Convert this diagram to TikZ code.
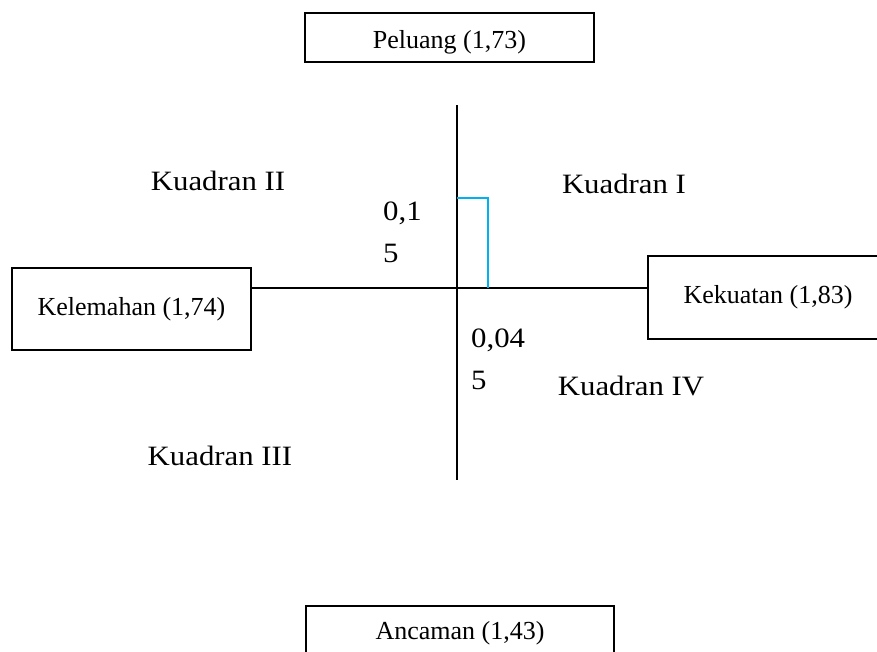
\documentclass[tikz,border=0pt]{standalone}
\usepackage{fontspec}
\setmainfont{Liberation Serif}
\newfontfamily\quadfont[FakeStretch=1.1]{Liberation Serif}
\definecolor{axisblue}{RGB}{0,176,240}
\begin{document}
\begin{tikzpicture}[x=1pt,y=-1pt,
  boxnode/.style={draw=black,line width=2.4pt,inner sep=0pt,font=\fontsize{26}{30}\selectfont},
  boxlabel/.style={inner sep=0pt,font=\fontsize{26}{30}\selectfont},
  quadlabel/.style={inner sep=0pt,anchor=base,font=\quadfont\fontsize{28}{42}\selectfont},
  numlabel/.style={inner sep=0pt,anchor=base west,font=\quadfont\fontsize{28}{42}\selectfont},
  axisline/.style={line width=2pt,black},
  markline/.style={line width=2pt,axisblue}]
\useasboundingbox (0,0) rectangle (877,651);
% boxes
\node[boxnode,minimum width=289pt,minimum height=49pt,text height=27pt] (peluang) at (449.5,37.5) {Peluang (1,73)};
\node[boxnode,minimum width=239pt,minimum height=82pt] (kelemahan) at (131.5,309) {Kelemahan (1,74)};
\node[boxnode,minimum width=240pt,minimum height=83pt] (kekuatan) at (768,297.5) {Kekuatan (1,83)};
\node[boxnode,minimum width=308pt,minimum height=90pt,anchor=north] (ancaman) at (460,605) {};
\node[boxlabel] (ancamanlbl) at (460,633) {Ancaman (1,43)};
% axes
\coordinate (origin) at (457,288);
\coordinate (vtop) at (457,105);
\coordinate (vbot) at (457,480);
\draw[axisline] (vtop) -- (vbot);
\draw[axisline] (kelemahan.east |- origin) -- (kekuatan.west |- origin);
% blue marker
\coordinate (btop) at (457,198);
\coordinate (bcorner) at (488,198);
\coordinate (bbot) at (488,288);
\draw[markline] (btop) -- (bcorner) -- (bbot);
% quadrant labels
\node[quadlabel] (q2) at (218,190) {Kuadran II};
\node[quadlabel] (q1) at (624,193) {Kuadran I};
\node[quadlabel] (q4) at (631,395) {Kuadran IV};
\node[quadlabel] (q3) at (220,465) {Kuadran III};
% numbers
\node[numlabel] (n1a) at (383,220) {0,1};
\node[numlabel] (n1b) at (383,262) {5};
\node[numlabel] (n2a) at (471,347) {0,04};
\node[numlabel] (n2b) at (471,389) {5};
\end{tikzpicture}
\end{document}
